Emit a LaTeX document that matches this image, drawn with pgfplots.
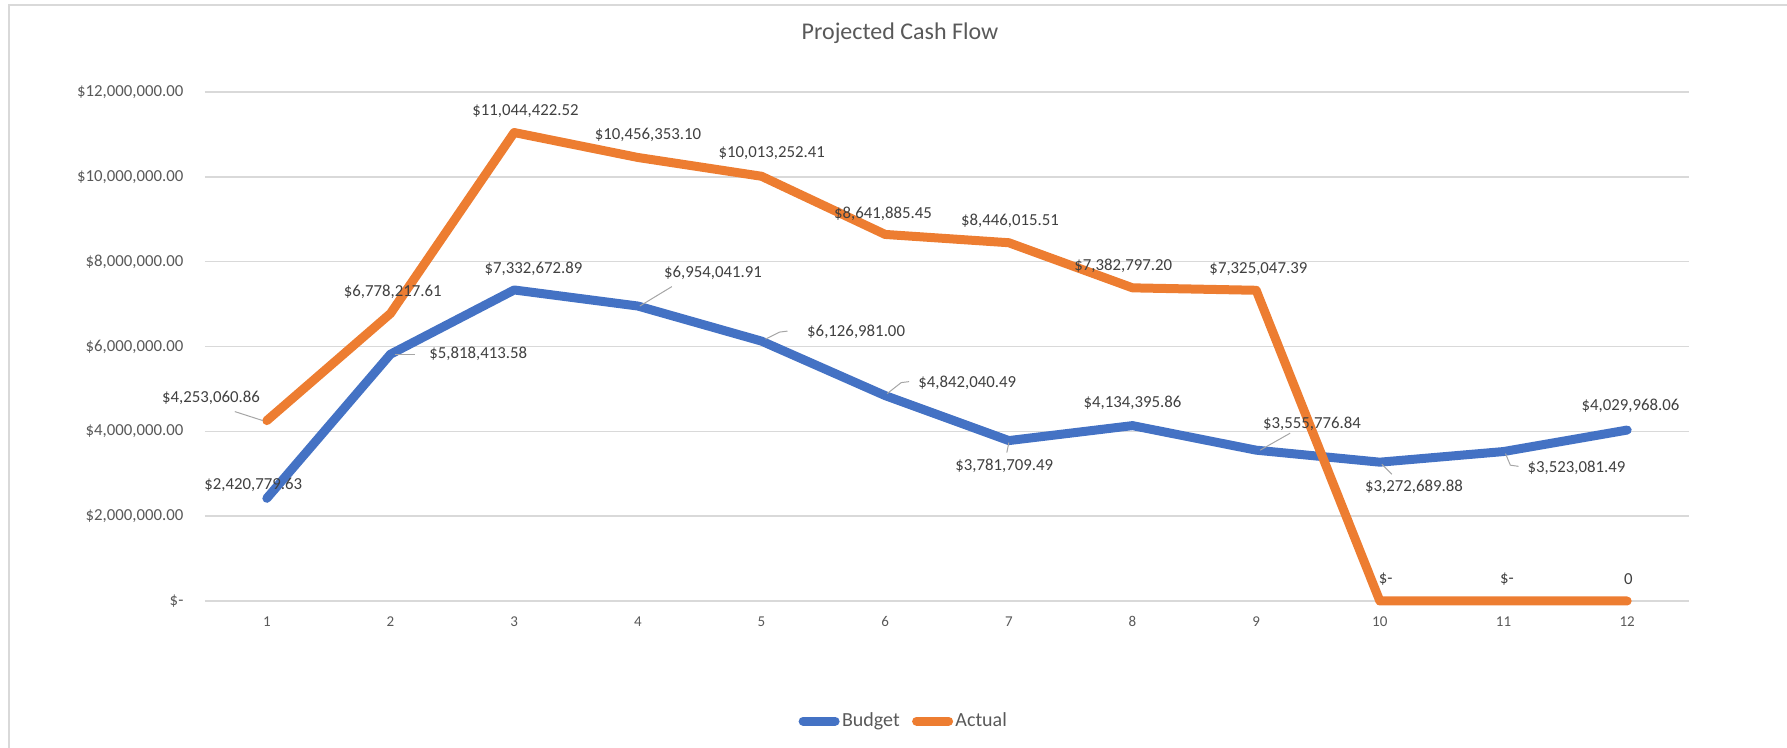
\documentclass[border=0pt]{standalone}
\usepackage{fontspec}
\setmainfont{Carlito}
\usepackage{pgfplots}
\pgfplotsset{compat=1.18}
\definecolor{cBlue}{HTML}{4472C4}
\definecolor{cOrange}{HTML}{ED7D31}
\definecolor{cGrid}{HTML}{D9D9D9}
\definecolor{cTick}{HTML}{595959}
\definecolor{cLab}{HTML}{404040}
\definecolor{cLead}{HTML}{A6A6A6}
\begin{document}
\begin{tikzpicture}[
  dl/.style={font=\fontsize{8.4}{10}\selectfont, text=cLab, inner sep=0pt, anchor=center},
  ld/.style={draw=cLead, line width=0.5pt}]
\useasboundingbox (-102.5pt,-73.5pt) rectangle (791pt,300.5pt);
\draw[cGrid, line width=0.9pt] (-98pt,-80pt) -- (-98pt,298pt) -- (800pt,298pt);
\node[font=\fontsize{12}{14}\selectfont, text=cTick] at (347.5pt,284pt) {Projected Cash Flow};
\begin{axis}[
  at={(0pt,0pt)}, anchor=south west, scale only axis,
  width=742pt, height=254.5pt,
  xmin=0.5, xmax=12.5, ymin=0, ymax=12000000,
  xtick={1,2,3,4,5,6,7,8,9,10,11,12},
  xticklabels={1,2,3,4,5,6,7,8,9,10,11,12},
  ytick={0,2000000,4000000,6000000,8000000,10000000,12000000},
  yticklabels={{\$-\hspace{4.4pt}},{\$2,000,000.00},{\$4,000,000.00},{\$6,000,000.00},{\$8,000,000.00},{\$10,000,000.00},{\$12,000,000.00}},
  scaled y ticks=false,
  axis line style={draw=none},
  major tick length=0pt,
  ymajorgrids, grid style={cGrid, line width=0.75pt},
  yticklabel style={font=\fontsize{8.4}{10}\selectfont, text=cTick, anchor=east, inner sep=0pt, xshift=-10.6pt},
  xticklabel style={font=\fontsize{7.5}{9}\selectfont, text=cTick, anchor=north, inner sep=0pt, yshift=-7.5pt},
  clip=false,
  legend columns=2,
  legend style={at={(0.471,-0.236)}, anchor=center, draw=none, fill=none,
    font=\fontsize{10}{12}\selectfont, text=cTick,
    nodes={inner xsep=1.2pt},
    /tikz/every even column/.append style={column sep=5pt}},
  legend image code/.code={\draw[#1] (0pt,0pt) -- (16pt,0pt);},
]
\addplot[cBlue, line width=4.5pt, line join=round, line cap=round] coordinates {
  (1,2420779.63) (2,5818413.58) (3,7332672.89) (4,6954041.91) (5,6126981.00) (6,4842040.49)
  (7,3781709.49) (8,4134395.86) (9,3555776.84) (10,3272689.88) (11,3523081.49) (12,4029968.06)};
\addlegendentry{Budget}
\addplot[cOrange, line width=4.5pt, line join=round, line cap=round] coordinates {
  (1,4253060.86) (2,6778217.61) (3,11044422.52) (4,10456353.10) (5,10013252.41) (6,8641885.45)
  (7,8446015.51) (8,7382797.20) (9,7325047.39) (10,0) (11,0) (12,0)};
\addlegendentry{Actual}

% leader lines
\draw[ld] ([shift={(2pt,0pt)}]axis cs:2,5818413.58) -- ([shift={(12pt,0pt)}]axis cs:2,5818413.58);
\draw[ld] ([shift={(1pt,0pt)}]axis cs:4,6954041.91) -- ([shift={(17pt,9.7pt)}]axis cs:4,6954041.91);
\draw[ld] ([shift={(2pt,1pt)}]axis cs:5,6126981.00) -- ([shift={(9pt,4.5pt)}]axis cs:5,6126981.00) -- ([shift={(13pt,5pt)}]axis cs:5,6126981.00);
\draw[ld] ([shift={(1pt,1pt)}]axis cs:6,4842040.49) -- ([shift={(8pt,6.5pt)}]axis cs:6,4842040.49) -- ([shift={(12pt,7pt)}]axis cs:6,4842040.49);
\draw[ld] ([shift={(0pt,-1pt)}]axis cs:7,3781709.49) -- ([shift={(-1pt,-6pt)}]axis cs:7,3781709.49);
\draw[ld] ([shift={(2pt,0pt)}]axis cs:9,3555776.84) -- ([shift={(17pt,8.5pt)}]axis cs:9,3555776.84);
\draw[ld] ([shift={(1pt,-1pt)}]axis cs:10,3272689.88) -- ([shift={(6pt,-6pt)}]axis cs:10,3272689.88);
\draw[ld] ([shift={(1pt,-1pt)}]axis cs:11,3523081.49) -- ([shift={(3.4pt,-6.8pt)}]axis cs:11,3523081.49) -- ([shift={(7.5pt,-7.4pt)}]axis cs:11,3523081.49);
\draw[ld] ([shift={(-2pt,0pt)}]axis cs:1,4253060.86) -- ([shift={(-16pt,4.5pt)}]axis cs:1,4253060.86);

% Budget labels
\node[dl, xshift=-6.8pt, yshift=6.8pt] at (axis cs:1,2420779.63) {\$2,420,779.63};
\node[dl, xshift=43.9pt, yshift=0pt] at (axis cs:2,5818413.58) {\$5,818,413.58};
\node[dl, xshift=9.7pt, yshift=10.8pt] at (axis cs:3,7332672.89) {\$7,332,672.89};
\node[dl, xshift=37.6pt, yshift=16.5pt] at (axis cs:4,6954041.91) {\$6,954,041.91};
\node[dl, xshift=47.3pt, yshift=4.6pt] at (axis cs:5,6126981.00) {\$6,126,981.00};
\node[dl, xshift=41pt, yshift=6.3pt] at (axis cs:6,4842040.49) {\$4,842,040.49};
\node[dl, xshift=-2.3pt, yshift=-12.5pt] at (axis cs:7,3781709.49) {\$3,781,709.49};
\node[dl, xshift=0pt, yshift=11.4pt] at (axis cs:8,4134395.86) {\$4,134,395.86};
\node[dl, xshift=27.9pt, yshift=13.1pt] at (axis cs:9,3555776.84) {\$3,555,776.84};
\node[dl, xshift=17.1pt, yshift=-12.5pt] at (axis cs:10,3272689.88) {\$3,272,689.88};
\node[dl, xshift=36.5pt, yshift=-8pt] at (axis cs:11,3523081.49) {\$3,523,081.49};
\node[dl, xshift=1.7pt, yshift=12pt] at (axis cs:12,4029968.06) {\$4,029,968.06};

% Actual labels
\node[dl, xshift=-27.9pt, yshift=11.4pt] at (axis cs:1,4253060.86) {\$4,253,060.86};
\node[dl, xshift=1.1pt, yshift=10.8pt] at (axis cs:2,6778217.61) {\$6,778,217.61};
\node[dl, xshift=5.7pt, yshift=10.8pt] at (axis cs:3,11044422.52) {\$11,044,422.52};
\node[dl, xshift=5.1pt, yshift=11.4pt] at (axis cs:4,10456353.10) {\$10,456,353.10};
\node[dl, xshift=5.1pt, yshift=11.4pt] at (axis cs:5,10013252.41) {\$10,013,252.41};
\node[dl, xshift=-1.1pt, yshift=10.3pt] at (axis cs:6,8641885.45) {\$8,641,885.45};
\node[dl, xshift=0.6pt, yshift=10.8pt] at (axis cs:7,8446015.51) {\$8,446,015.51};
\node[dl, xshift=-4.6pt, yshift=10.8pt] at (axis cs:8,7382797.20) {\$7,382,797.20};
\node[dl, xshift=1.1pt, yshift=10.8pt] at (axis cs:9,7325047.39) {\$7,325,047.39};
\node[dl, xshift=2.9pt, yshift=10.8pt] at (axis cs:10,0) {\$-};
\node[dl, xshift=1.7pt, yshift=10.8pt] at (axis cs:11,0) {\$-};
\node[dl, xshift=0.6pt, yshift=10.8pt] at (axis cs:12,0) {0};
\end{axis}
\end{tikzpicture}
\end{document}
